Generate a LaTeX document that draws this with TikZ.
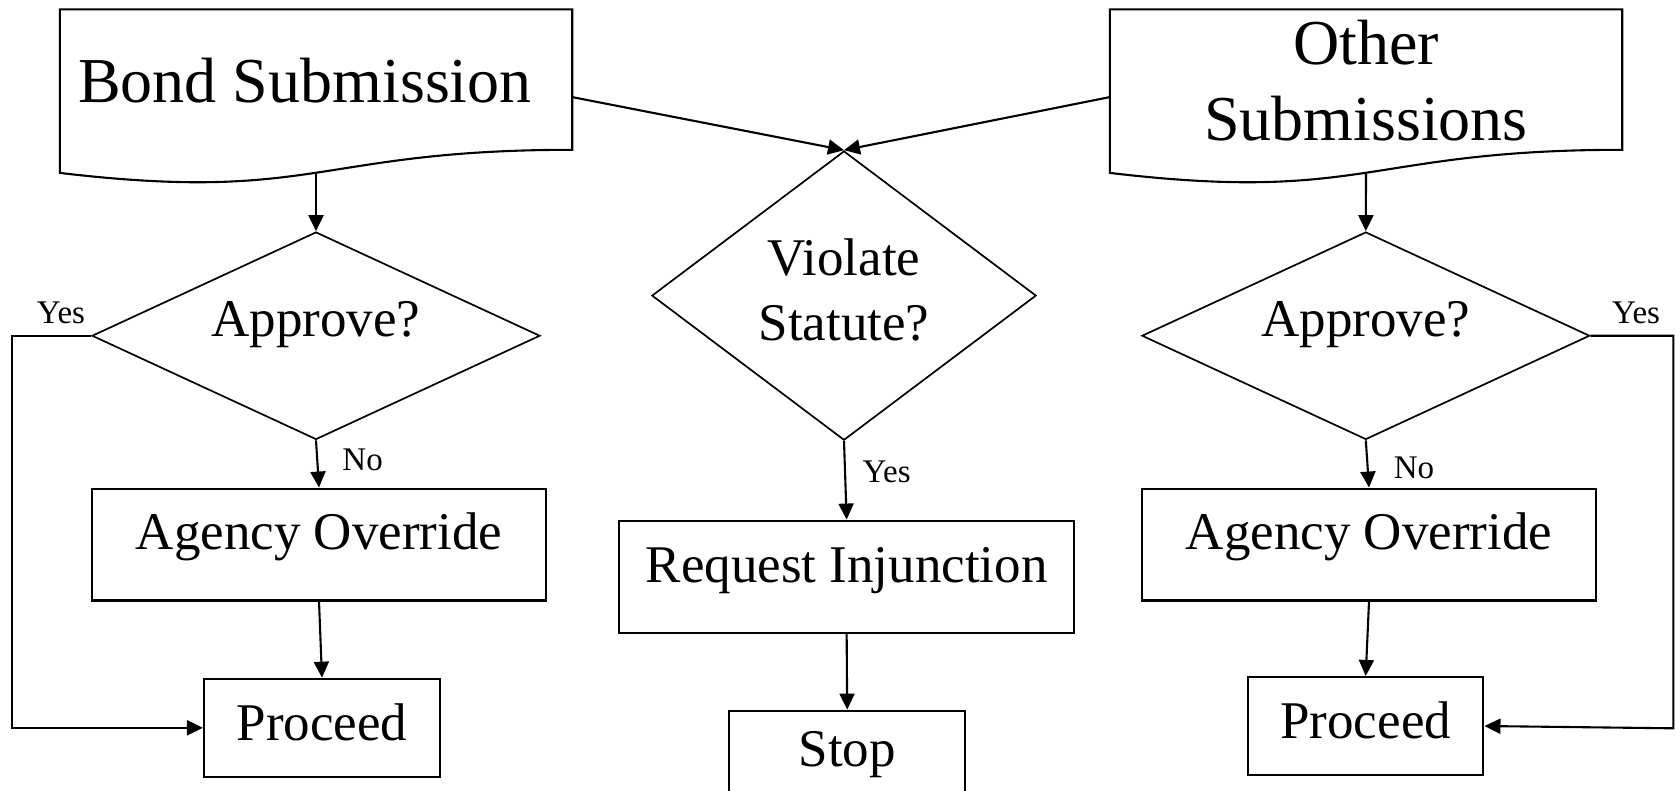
\documentclass[tikz,border=0pt]{standalone}
\usepackage{fontspec}
\setmainfont{Liberation Serif}
\usetikzlibrary{shapes.geometric,arrows.meta,calc}
\newcommand\twolines[4]{\vbox{\baselineskip=#1\hbox to #2{\hfil #3\hfil}\hbox to #2{\hfil #4\hfil}}}
\newcommand\fsbig{\fontsize{64pt}{76.8pt}\selectfont}
\newcommand\fsmid{\fontsize{53pt}{63.6pt}\selectfont}
\newcommand\fssmall{\fontsize{33pt}{40pt}\selectfont}
\tikzset{
  conn/.style={line width=2.1pt, line join=miter, -{Triangle[length=16pt,width=15pt]}},
  docline/.style={draw, line width=2.1pt, line join=miter},
  boxn/.style={draw, rectangle, line width=2.1pt, inner sep=0pt, font=\fsmid},
  docn/.style={rectangle, inner sep=0pt, font=\fsbig},
  decn/.style={draw, diamond, line width=1.7pt, inner sep=0pt, font=\fsmid},
  lab/.style={inner sep=0pt, anchor=base, font=\fssmall},
  tpos/.style 2 args={text height=#1pt, text depth=#2pt}
}
\begin{document}
\begin{tikzpicture}[x=1pt,y=-1pt]
\useasboundingbox (0,0) rectangle (1675,790);
\fill[white] (0,0) rectangle (1675,790);
\clip (0,0) rectangle (1675,790);

% document shapes
\node[docn, minimum width=512pt, minimum height=175.2pt, tpos={45.2}{34.8}] (bond) at (316,97.1) {Bond Submission\hspace*{22pt}};
\node[docn, minimum width=512pt, minimum height=175.2pt, tpos={92.9}{7.1}] (other) at (1366,97.1) {\twolines{75.7pt}{340pt}{Other}{Submissions}};
\draw[docline] ($(bond.north west)+(0,163.6)$) -- (bond.north west) -- (bond.north east) -- ($(bond.north east)+(0,140.5)$) .. controls ($(bond.north)+(0,140.5)$) and ($(bond.north)+(0,194)$) .. cycle;
\draw[docline] ($(other.north west)+(0,163.6)$) -- (other.north west) -- (other.north east) -- ($(other.north east)+(0,140.5)$) .. controls ($(other.north)+(0,140.5)$) and ($(other.north)+(0,194)$) .. cycle;
\coordinate (bondB) at ($(bond.north)+(0,163.45)$);
\coordinate (otherB) at ($(other.north)+(0,163.45)$);

% decisions
\node[decn, minimum width=448pt, minimum height=207.5pt, shape aspect=2.16, tpos={25.25}{24.75}] (apL) at (316,335.75) {Approve?};
\node[decn, minimum width=447.8pt, minimum height=207.5pt, shape aspect=2.16, tpos={25.25}{24.75}] (apR) at (1365.8,335.75) {Approve?};
\node[decn, minimum width=384.3pt, minimum height=289.2pt, shape aspect=1.33, tpos={94.8}{5.2}] (viol) at (844,295.6) {\twolines{65pt}{200pt}{Violate}{Statute?}};

% process boxes
\node[boxn, minimum width=454pt, minimum height=111.9pt, tpos={45.05}{34.95}] (aoL) at (319,544.55) {Agency Override};
\node[boxn, minimum width=454.1pt, minimum height=111.9pt, tpos={45.05}{34.95}] (aoR) at (1369,544.55) {Agency Override};
\node[boxn, minimum width=454.7pt, minimum height=112.4pt, tpos={45.6}{34.4}] (req) at (846.65,576.8) {Request Injunction};
\node[boxn, minimum width=235.7pt, minimum height=119.3pt, tpos={35.65}{44.35}] (stop) at (847.15,770.35) {Stop};
\node[boxn, minimum width=236pt, minimum height=98.2pt, tpos={52.9}{27.1}] (procL) at (322,727.8) {Proceed};
\node[boxn, minimum width=235.4pt, minimum height=98pt, tpos={52.3}{27.7}] (procR) at (1365.7,726) {Proceed};

% labels
\node[lab] (yesL) at (61,323) {Yes};
\node[lab] (noL) at (362.6,470.4) {No};
\node[lab] (yesV) at (886.7,482.7) {Yes};
\node[lab] (noR) at (1414,478) {No};
\node[lab] (yesR) at (1636,323) {Yes};

% connectors
\coordinate (rtop) at (1673.3,335.75);
\coordinate (rbot) at (1673.3,728.3);
\draw[conn] (bond.east) -- (viol.north);
\draw[conn] (other.west) -- (viol.north);
\draw[conn] (bondB) -- (apL.north);
\draw[conn] (otherB) -- (apR.north);
\draw[conn] (apL.south) -- (aoL.north);
\draw[conn] (aoL.south) -- (procL.north);
\draw[conn] (apL.west) -- ++(-79.4,0) |- (procL.west);
\draw[conn] (viol.south) -- (req.north);
\draw[conn] (req.south) -- (stop.north);
\draw[conn] (apR.south) -- (aoR.north);
\draw[conn] (aoR.south) -- (procR.north);
\draw[conn] (apR.east) -- (rtop) -- (rbot) -- (procR.east);
\end{tikzpicture}
\end{document}
